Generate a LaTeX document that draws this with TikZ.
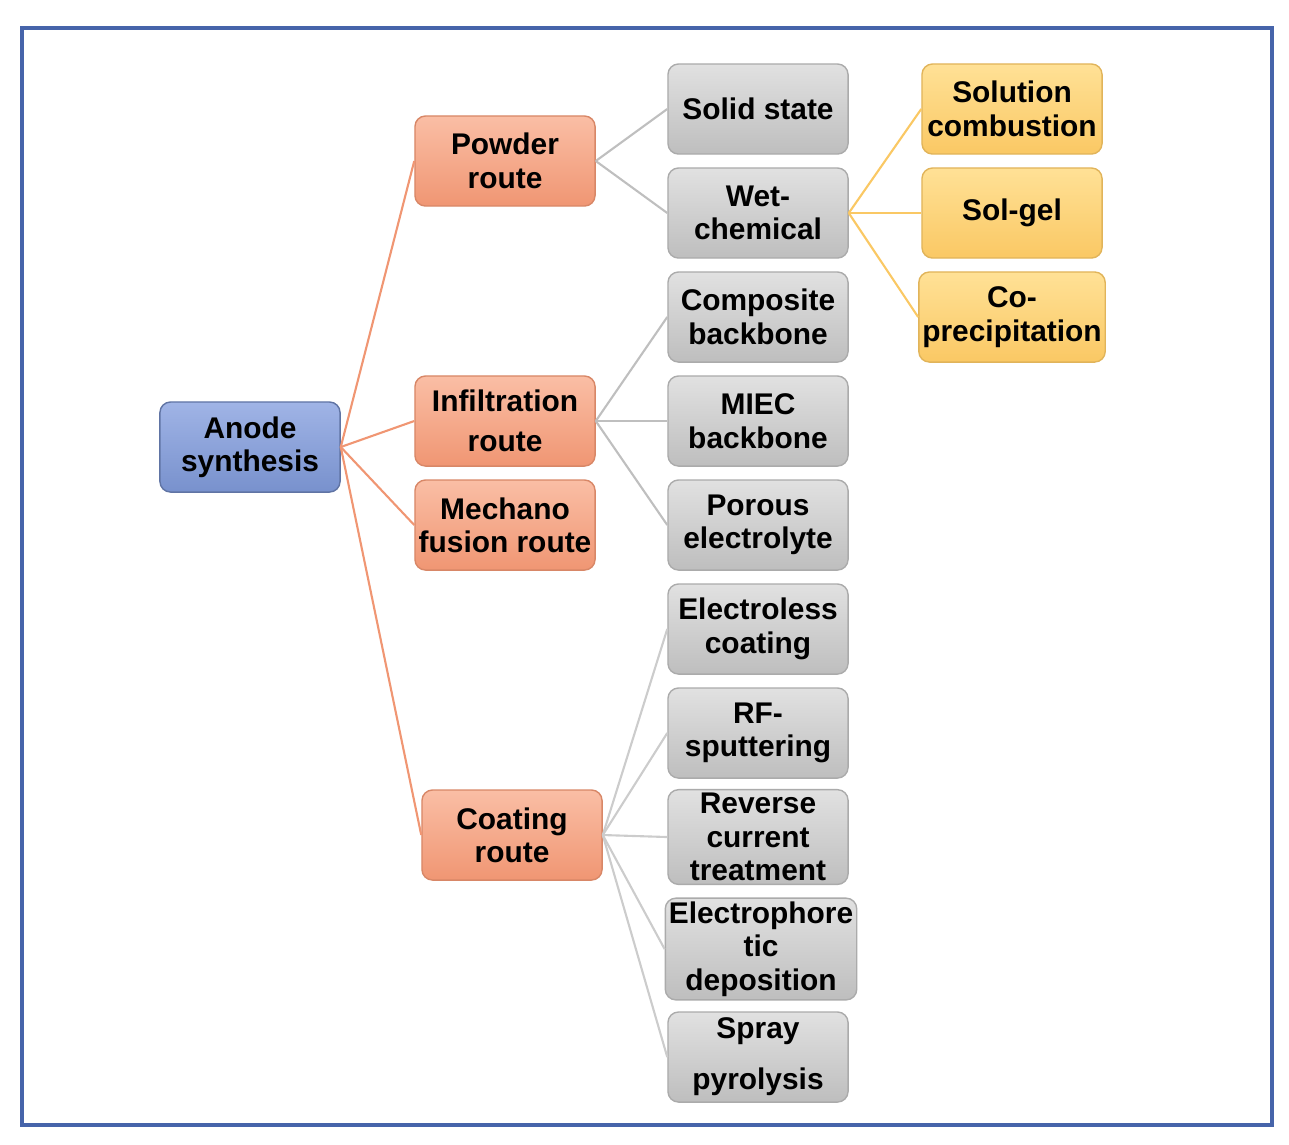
\documentclass[tikz,border=0pt]{standalone}
\usepackage{fontspec}
\setmainfont{Liberation Sans}
\usetikzlibrary{positioning}
\definecolor{frameblue}{RGB}{70,100,170}
\definecolor{blueA}{RGB}{160,180,230}\definecolor{blueB}{RGB}{120,145,205}
\definecolor{orA}{RGB}{250,190,165}\definecolor{orB}{RGB}{240,150,115}
\definecolor{grA}{RGB}{225,225,225}\definecolor{grB}{RGB}{190,190,190}
\definecolor{yeA}{RGB}{255,225,150}\definecolor{yeB}{RGB}{250,200,100}
\tikzset{
  box/.style={rounded corners=3pt,minimum width=1.8cm,minimum height=0.9cm,
    align=center,font=\fontsize{8.5}{9.5}\selectfont\bfseries,inner sep=1pt},
  root/.style={box,top color=blueA,bottom color=blueB,draw=blueB!80!black},
  route/.style={box,top color=orA,bottom color=orB,draw=orB!90!black},
  method/.style={box,top color=grA,bottom color=grB,draw=grB!90!black},
  sub/.style={box,top color=yeA,bottom color=yeB,draw=yeB!90!black},
  link/.style={draw=#1,line width=0.6pt}
}
\begin{document}
\begin{tikzpicture}[x=0.01cm,y=-0.01cm]
  \useasboundingbox (0,0) rectangle (1289,1144);
  \draw[frameblue,line width=1.2pt] (22,28) rectangle (1272,1125);

  \node[root] (anode) at (250,447) {Anode\\synthesis};

  \node[route] (powder) at (505,161) {Powder\\route};
  \node[route] (infil) at (505,421) {Infiltration\\[2pt]route};
  \node[route] (mech) at (505,525) {Mechano\\fusion route};
  \node[route] (coat) at (512,835) {Coating\\route};

  \node[method] (solid) at (758,109) {Solid state};
  \node[method] (wet) at (758,213) {Wet-\\chemical};
  \node[method] (comp) at (758,317) {Composite\\backbone};
  \node[method] (miec) at (758,421) {MIEC\\backbone};
  \node[method] (porous) at (758,525) {Porous\\electrolyte};
  \node[method] (eless) at (758,629) {Electroless\\coating};
  \node[method] (rf) at (758,733) {RF-\\sputtering};
  \node[method] (rev) at (758,837) {Reverse\\current\\treatment};
  \node[method] (ephor) at (761,949) {Electrophore\\tic\\deposition};
  \node[method] (spray) at (758,1057) {Spray\\[5pt]pyrolysis};

  \node[sub] (solcomb) at (1012,109) {Solution\\combustion};
  \node[sub] (solgel) at (1012,213) {Sol-gel};
  \node[sub] (coprec) at (1012,317) {Co-\\precipitation};

  % root to routes
  \foreach \r in {powder,infil,mech,coat}
    \draw[link={orB}] (anode.east) -- (\r.west);
  % routes to methods
  \foreach \m in {solid,wet}
    \draw[link={gray!50}] (powder.east) -- (\m.west);
  \foreach \m in {comp,miec,porous}
    \draw[link={gray!50}] (infil.east) -- (\m.west);
  \foreach \m in {eless,rf,rev,ephor,spray}
    \draw[link={gray!40}] (coat.east) -- (\m.west);
  % wet-chemical variants
  \foreach \s in {solcomb,solgel,coprec}
    \draw[link={yeB}] (wet.east) -- (\s.west);
\end{tikzpicture}
\end{document}
